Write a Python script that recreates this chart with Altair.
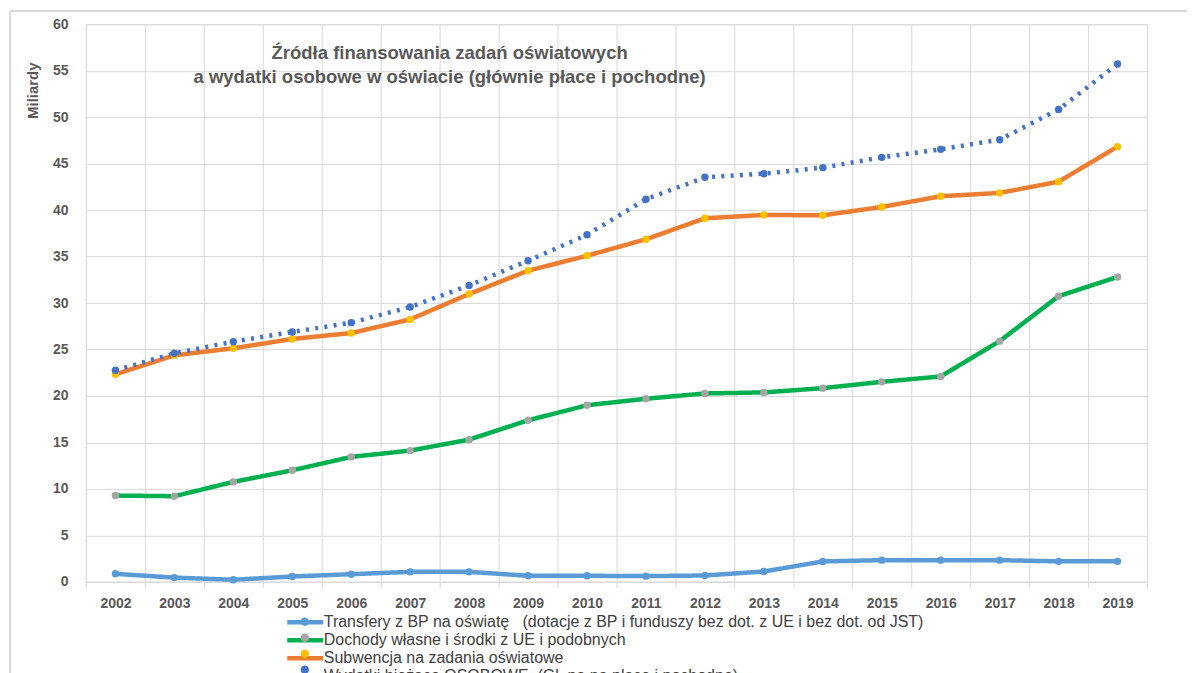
import altair as alt
import pandas as pd

years = [str(y) for y in range(2002, 2020)]

transfery = [0.86, 0.45, 0.22, 0.57, 0.82, 1.07, 1.07, 0.65, 0.65, 0.61, 0.68, 1.11, 2.19, 2.33, 2.33, 2.33, 2.2, 2.2]
dochody = [9.28, 9.21, 10.75, 12.0, 13.44, 14.12, 15.3, 17.38, 19.0, 19.7, 20.27, 20.38, 20.84, 21.52, 22.1, 25.9, 30.74, 32.81]
subwencja = [22.33, 24.37, 25.13, 26.13, 26.77, 28.24, 30.97, 33.48, 35.09, 36.86, 39.12, 39.48, 39.44, 40.34, 41.49, 41.85, 43.06, 46.83]
wydatki = [22.76, 24.59, 25.84, 26.88, 27.89, 29.57, 31.9, 34.55, 37.35, 41.17, 43.53, 43.92, 44.57, 45.68, 46.54, 47.58, 50.84, 55.72]

series_names = [
    "Transfery z BP na oświatę\u00a0\u00a0\u00a0(dotacje z BP i funduszy bez dot. z UE i bez dot. od JST)",
    "Dochody własne i środki z UE i podobnych",
    "Subwencja na zadania oświatowe",
    "Wydatki bieżące OSOBOWE\u00a0\u00a0(Gł. na na płace i pochodne)",
]
line_colors = ["#5B9BD5", "#00B050", "#ED7D31", "#4472C4"]
marker_colors = ["#5B9BD5", "#A5A5A5", "#FFC000", "#4472C4"]
dashes = [[1, 0], [1, 0], [1, 0], [3, 6.3]]

title_lines = ["Źródła finansowania zadań oświatowych",
               "a wydatki osobowe w oświacie (głównie płace i pochodne)"]

rows = []
for name, vals in zip(series_names, [transfery, dochody, subwencja, wydatki]):
    for y, v in zip(years, vals):
        rows.append({"rok": y, "wartosc": v, "seria": name, "seria_m": name})
df = pd.DataFrame(rows)

LBL = "#595959"
GRID = "#d9d9d9"

LINE_SYM = "M-3,0L3,0"
CIRCLE_SYM = ("M0.7,0C0.7,0.3866,0.3866,0.7,0,0.7C-0.3866,0.7,-0.7,0.3866,-0.7,0"
              "C-0.7,-0.3866,-0.3866,-0.7,0,-0.7C0.3866,-0.7,0.7,-0.3866,0.7,0Z")

legend_common = dict(title=None, orient="none", legendX=211, legendY=590,
                     symbolSize=144, labelFont="Liberation Sans", labelFontSize=16,
                     rowPadding=-4.5, labelOffset=10, padding=0, labelLimit=0)

x_enc = alt.X("rok:O", sort=years,
              scale=alt.Scale(type="band", paddingInner=0, paddingOuter=0),
              axis=alt.Axis(title=None, tickBand="extent", grid=True, gridColor=GRID,
                            domainColor=GRID, tickColor=GRID, tickSize=6,
                            labelAngle=0, labelFont="Liberation Sans", labelFontSize=14,
                            labelFontWeight="bold", labelColor=LBL, labelPadding=9))
y_enc = alt.Y("wartosc:Q", scale=alt.Scale(domain=[0, 60], nice=False),
              axis=alt.Axis(title="Miliardy", values=list(range(0, 61, 5)),
                            grid=True, gridColor=GRID, domain=False, ticks=False,
                            labelFont="Liberation Sans", labelFontSize=14,
                            labelFontWeight="bold", labelColor=LBL, labelPadding=18,
                            titleFont="Liberation Sans", titleFontSize=15,
                            titleFontWeight="bold", titleColor=LBL,
                            titleAnchor="end", titleAngle=270, titleX=-53, titleY=66,
                            titleAlign="center", titleBaseline="middle"))

lines = alt.Chart(df).mark_line(strokeWidth=4.5, strokeJoin="round").encode(
    x=x_enc, y=y_enc,
    stroke=alt.Stroke("seria:N", sort=series_names,
                      scale=alt.Scale(domain=series_names, range=line_colors),
                      legend=alt.Legend(symbolType=LINE_SYM, labelColor="#404040",
                                        symbolStrokeWidth=4.5, **legend_common)),
    strokeDash=alt.StrokeDash("seria:N", sort=series_names,
                              scale=alt.Scale(domain=series_names, range=dashes),
                              legend=alt.Legend(symbolType=LINE_SYM, labelColor="#404040",
                                                symbolStrokeWidth=4.5, **legend_common)),
)

points = alt.Chart(df).mark_point(filled=True, size=55, opacity=1, shape="circle").encode(
    x=x_enc, y=y_enc,
    fill=alt.Fill("seria_m:N", sort=series_names,
                  scale=alt.Scale(domain=series_names, range=marker_colors),
                  legend=alt.Legend(symbolType=CIRCLE_SYM, labelColor="transparent",
                                    symbolStrokeWidth=0, symbolStrokeColor="transparent",
                                    **legend_common)),
)

frame = alt.Chart(df).mark_rule(color="#d9d9d9", strokeWidth=1).encode(
    x=alt.value(-76), x2=alt.value(1150), y=alt.value(-13)
)
frame_left = alt.Chart(df).mark_rule(color="#d9d9d9", strokeWidth=1).encode(
    x=alt.value(-76), y=alt.value(-13), y2=alt.value(700)
)

chart = alt.layer(frame, frame_left, lines, points).properties(
    width=1062, height=558,
    autosize=alt.AutoSizeParams(type="none"),
    padding={"left": 78, "top": 16, "right": 40, "bottom": 100},
    title=alt.TitleParams(text=title_lines, anchor="middle", dx=-167, dy=76,
                          baseline="top", font="Liberation Sans", fontSize=18.5,
                          fontWeight="bold", color=LBL, lineHeight=24, offset=0, orient="top"),
).configure_view(stroke=GRID).resolve_legend(fill="independent")

chart.save("out.html", embed_options={"renderer": "svg", "actions": False})
